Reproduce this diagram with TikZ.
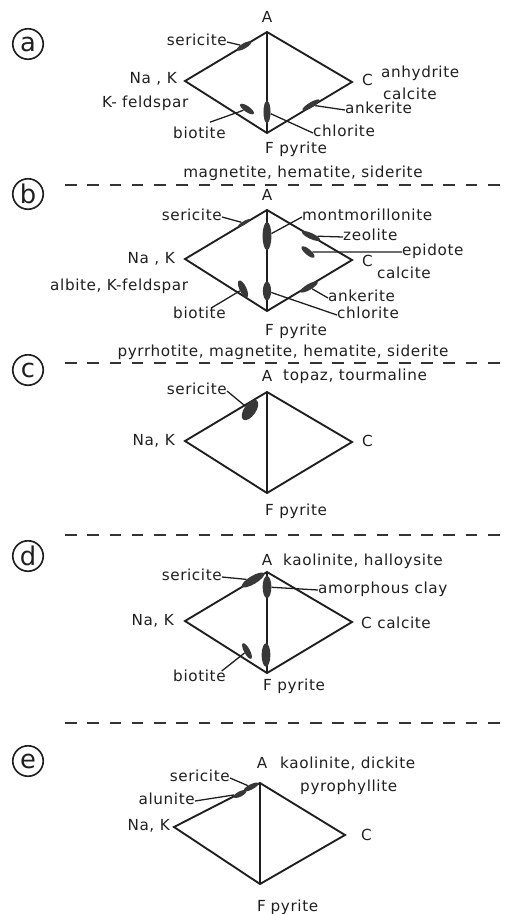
\documentclass[tikz,border=0pt]{standalone}
\usepackage{fontspec}
\setmainfont[LetterSpace=4]{DejaVu Sans}
\usetikzlibrary{shapes.geometric}
\tikzset{
	side/.style={line width=1.6pt, black!88},
	lead/.style={line width=1.1pt, black!88},
	sepline/.style={line width=1.3pt, black!80, dash pattern=on 10pt off 9pt},
	lbl/.style={font=\fontsize{13}{15}\selectfont, inner sep=0pt, text height=9pt, text depth=2.5pt, black!88},
	tag/.style={draw, circle, line width=1.4pt, minimum size=26pt, inner sep=0pt, font=\fontsize{22}{24}\selectfont, black!88},
	blob/.style n args={3}{ellipse, fill=black!78, inner sep=0pt, minimum width=#1pt, minimum height=#2pt, rotate=#3}
}
\begin{document}
\begin{tikzpicture}[x=0.03cm, y=-0.03cm]
		\useasboundingbox (0,0) rectangle (505,914);
		
		\foreach \y in {185,363,535,723}{
			\draw[sepline] (65,\y)--(505,\y);
		}
		\foreach \t/\y in {a/44,b/194,c/370,d/556,e/761}{
			\node[tag] (tag\t) at (28,\y) {\t};
		}
		
		\foreach \p/\y in {a/32,b/210,c/392,d/572}{
			\coordinate (\p A) at (267,\y);
			\coordinate (\p N) at (185,\y+49);
			\coordinate (\p C) at (352,\y+50);
			\coordinate (\p F) at (267,\y+101);
			\draw[side] (\p A)--(\p C)--(\p F)--(\p N)--cycle (\p A)--(\p F);
		}
		\coordinate (eA) at (260,783);
		\coordinate (eN) at (174,827);
		\coordinate (eC) at (345,835);
		\coordinate (eF) at (260,884);
		\draw[side] (eA)--(eC)--(eF)--(eN)--cycle (eA)--(eF);
		
		% (a)
		\node[blob={14}{4.5}{30}] (aSer) at (244,46) {};
		\node[blob={6}{19}{0}] (aMid) at (267,112) {};
		\node[blob={14}{5}{-35}] (aBio) at (247,109) {};
		\node[blob={17}{4.5}{31}] (aAnk) at (311,105) {};
		\node[lbl] (aAl) at (267,19) {A};
		\node[lbl, anchor=east] (aSerl) at (227,42) {sericite};
		\node[lbl, anchor=east] (aNl) at (177,80) {Na , K};
		\node[lbl, anchor=west] (aKfs) at (102,104) {K- feldspar};
		\node[lbl, anchor=west] (aBiol) at (173,135) {biotite};
		\node[lbl, anchor=west] (aCl) at (362,82) {C};
		\node[lbl, anchor=west] (aAnh) at (381,74) {anhydrite};
		\node[lbl, anchor=west] (aCal) at (383,96) {calcite};
		\node[lbl, anchor=west] (aAnkl) at (345,110) {ankerite};
		\node[lbl, anchor=west] (aChll) at (313,133) {chlorite};
		\node[lbl, anchor=west] (aFl) at (265,150) {F pyrite};
		\draw[lead] (aSerl.east)--(aSer);
		\draw[lead] ([xshift=9pt,yshift=5pt]aBiol.north)--(aBio);
		\draw[lead] (aAnk)--(aAnkl.west);
		\draw[lead] (aMid)--(aChll.west);
		
		% (b)
		\node[lbl] (bTop) at (303,174) {magnetite, hematite, siderite};
		\node[blob={12}{3}{31}] (bSer) at (244,223) {};
		\node[blob={7.5}{24}{0}] (bMid) at (267,236) {};
		\node[blob={7}{16}{0}] (bLow) at (267,291) {};
		\node[blob={17}{5}{-25}] (bZeo) at (311,236) {};
		\node[blob={14}{5}{-40}] (bEpi) at (308,252) {};
		\node[blob={16}{6}{-65}] (bBio) at (243,289) {};
		\node[blob={17}{5}{30}] (bAnk) at (309,287) {};
		\node[lbl] (bAl) at (267,197) {A};
		\node[lbl, anchor=east] (bSerl) at (222,217) {sericite};
		\node[lbl, anchor=west] (bMonl) at (302,217) {montmorillonite};
		\node[lbl, anchor=west] (bZeol) at (343,237) {zeolite};
		\node[lbl, anchor=west] (bEpil) at (402,252) {epidote};
		\node[lbl, anchor=east] (bNl) at (175,260) {Na , K};
		\node[lbl, anchor=west] (bAlb) at (50,287) {albite, K-feldspar};
		\node[lbl, anchor=west] (bBiol) at (173,315) {biotite};
		\node[lbl, anchor=west] (bCl) at (362,263) {C};
		\node[lbl, anchor=west] (bCal) at (377,275) {calcite};
		\node[lbl, anchor=west] (bAnkl) at (328,298) {ankerite};
		\node[lbl, anchor=west] (bChll) at (337,315) {chlorite};
		\node[lbl, anchor=west] (bFl) at (265,332) {F pyrite};
		\draw[lead] (bSerl.east)--(bSer);
		\draw[lead] (bMid)--(bMonl.west);
		\draw[lead] (bZeo)--(bZeol.west);
		\draw[lead] (bEpi)--(bEpil.west);
		\draw[lead] ([xshift=10pt]bBiol.north)--(bBio);
		\draw[lead] (bAnk)--(bAnkl.west);
		\draw[lead] (bLow)--(bChll.west);
		
		% (c)
		\node[lbl] (cTop) at (283,353) {pyrrhotite, magnetite, hematite, siderite};
		\node[blob={20}{10}{55}] (cSer) at (250,410) {};
		\node[lbl] (cAl) at (267,378) {A};
		\node[lbl, anchor=west] (cTop2) at (283,377) {topaz, tourmaline};
		\node[lbl, anchor=east] (cSerl) at (227,391) {sericite};
		\node[lbl, anchor=east] (cNl) at (175,442) {Na, K};
		\node[lbl, anchor=west] (cCl) at (362,443) {C};
		\node[lbl, anchor=west] (cFl) at (265,512) {F pyrite};
		\draw[lead] (cSerl.east)--(cSer);
		
		% (d)
		\node[blob={22}{7}{31}] (dSer) at (253,580) {};
		\node[blob={7.5}{19}{0}] (dAmc) at (267,587) {};
		\node[blob={7.5}{20}{0}] (dLow) at (266,655) {};
		\node[blob={15}{5}{-62}] (dBio) at (247,651) {};
		\node[lbl] (dAl) at (267,562) {A};
		\node[lbl, anchor=west] (dTop) at (283,562) {kaolinite, halloysite};
		\node[lbl, anchor=east] (dSerl) at (222,577) {sericite};
		\node[lbl, anchor=west] (dAmcl) at (318,590) {amorphous clay};
		\node[lbl, anchor=east] (dNl) at (174,622) {Na, K};
		\node[lbl, anchor=west] (dCl) at (361,625) {C calcite};
		\node[lbl, anchor=west] (dBiol) at (173,678) {biotite};
		\node[lbl, anchor=west] (dFl) at (263,687) {F pyrite};
		\draw[lead] (dSerl.east)--(dSer);
		\draw[lead] (dAmc)--(dAmcl.west);
		\draw[lead] ([xshift=19pt]dBiol.north)--(dBio);
		
		% (e)
		\node[blob={14}{4.5}{27}] (eSer) at (251,787) {};
		\node[blob={12}{4.5}{27}] (eAlu) at (240,794) {};
		\node[lbl] (eAl) at (262,765) {A};
		\node[lbl, anchor=west] (eTop) at (280,765) {kaolinite, dickite};
		\node[lbl, anchor=west] (eTop2) at (300,788) {pyrophyllite};
		\node[lbl, anchor=east] (eSerl) at (230,778) {sericite};
		\node[lbl, anchor=east] (eAlul) at (195,801) {alunite};
		\node[lbl, anchor=east] (eNl) at (170,827) {Na, K};
		\node[lbl, anchor=west] (eCl) at (361,837) {C};
		\node[lbl, anchor=west] (eFl) at (257,908) {F\hspace{4pt}pyrite};
		\draw[lead] (eSerl.east)--(eSer);
		\draw[lead] (eAlul.east)--(eAlu);
\end{tikzpicture}
\end{document}
